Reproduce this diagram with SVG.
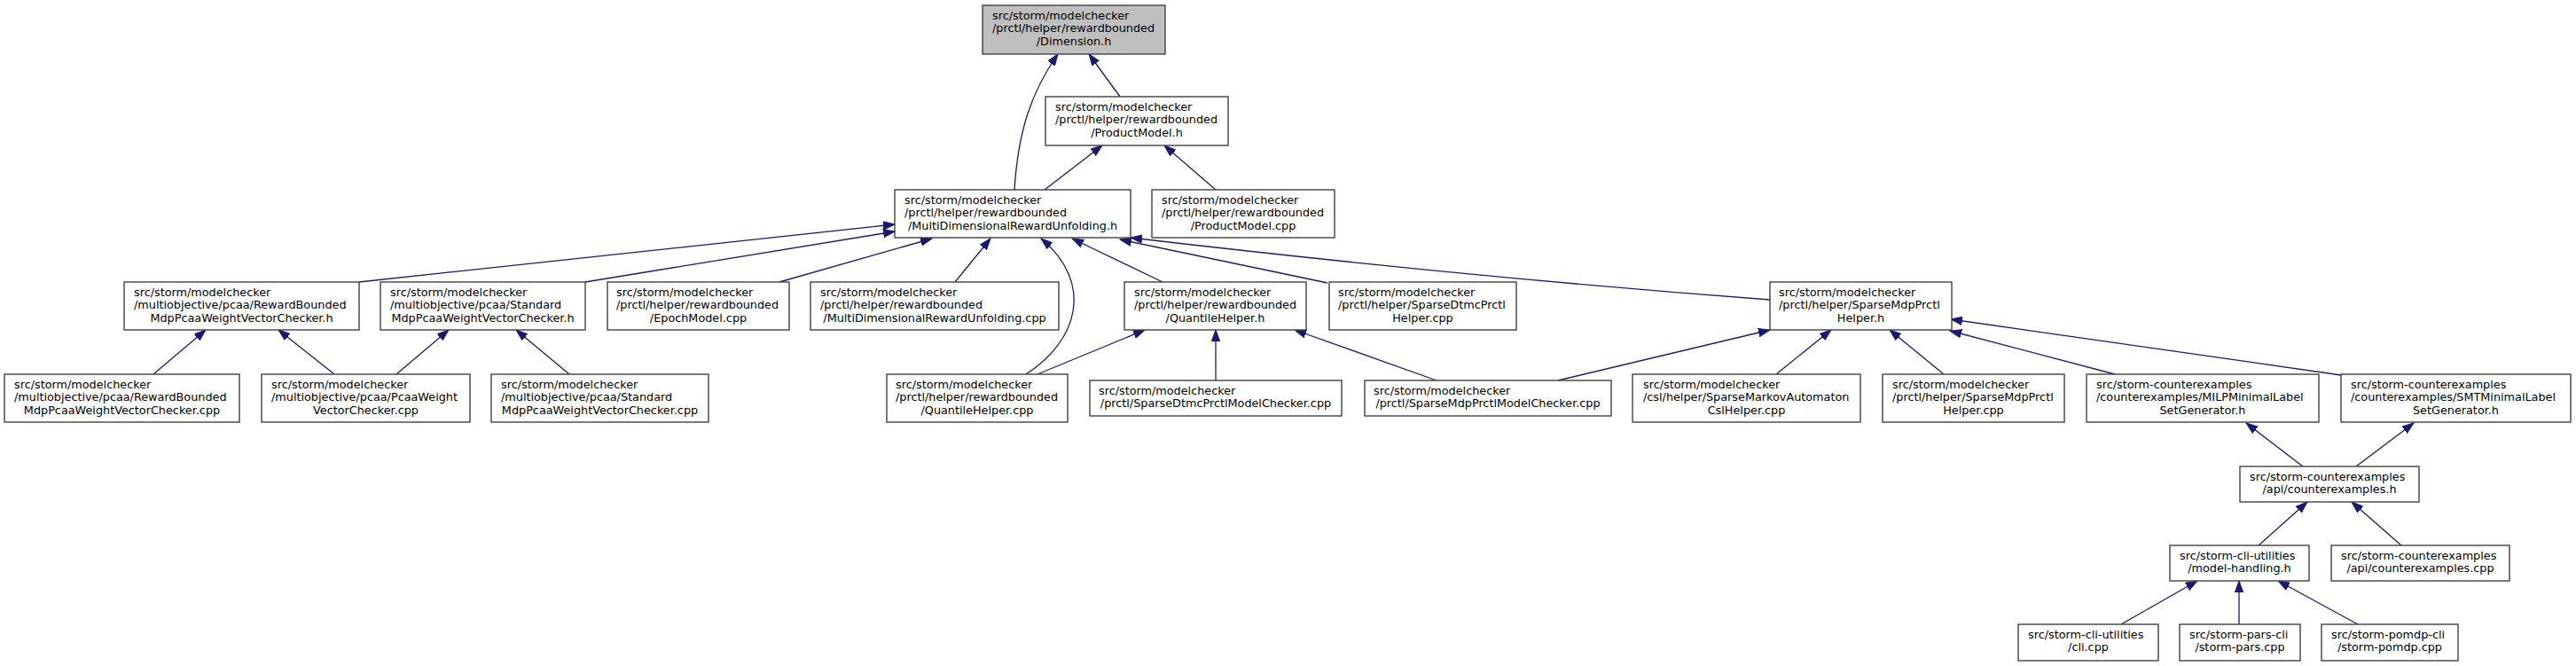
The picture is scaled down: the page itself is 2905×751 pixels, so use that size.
<svg xmlns="http://www.w3.org/2000/svg" width="2905" height="751" viewBox="0 0 2905 751">
<style>
rect{fill:#ffffff;stroke:#404040;stroke-width:1.4}
rect.root{fill:#bfbfbf}
text{font-family:"DejaVu Sans","Liberation Sans",sans-serif;font-size:12.8px;fill:#000000}
.c{text-anchor:middle}
#edges path{fill:none;stroke:#191970;stroke-width:1.3;marker-end:url(#ah)}
</style>
<defs>
<marker id="ah" markerUnits="userSpaceOnUse" markerWidth="14" markerHeight="10" refX="13" refY="5" orient="auto" viewBox="0 0 14 10">
<path d="M0,0.3 L13,5 L0,9.7 z" fill="#191970" stroke="#191970" stroke-width="1"/>
</marker>
</defs>
<rect x="0" y="0" width="2905" height="751" style="fill:#ffffff;stroke:none"/>
<g id="edges">
<path d="M1144,214 C1148,150 1162,105 1193,61"/>
<path d="M1263,109 L1228,61"/>
<path d="M1178,214 L1243,164"/>
<path d="M1371,214 L1313,164"/>
<path d="M405,318 L1009,253"/>
<path d="M660,318 L1009,261"/>
<path d="M879,318 L1051,269"/>
<path d="M1077,318 L1117,269"/>
<path d="M1157,422 C1215,385 1235,320 1174,269"/>
<path d="M1311,318 L1209,269"/>
<path d="M1497,319 L1263,270"/>
<path d="M1996,338 Q1650,312 1275,268"/>
<path d="M173,422 L232,372"/>
<path d="M377,422 L314,372"/>
<path d="M447,422 L506,372"/>
<path d="M642,422 L582,372"/>
<path d="M1170,422 L1291,372"/>
<path d="M1371,429 L1371,372"/>
<path d="M1620,429 L1460,372"/>
<path d="M1757,429 L1996,372"/>
<path d="M2003,422 L2065,372"/>
<path d="M2192,422 L2131,372"/>
<path d="M2385,422 L2199,373"/>
<path d="M2640,423 L2200,360"/>
<path d="M2597,526 L2533,477"/>
<path d="M2657,526 L2722,477"/>
<path d="M2547,615 L2602,566"/>
<path d="M2708,615 L2652,566"/>
<path d="M2392,704 L2478,655"/>
<path d="M2525,704 L2525,655"/>
<path d="M2659,704 L2569,655"/>
</g>
<g id="n_dimension_h"><rect class="root" x="1108" y="6" width="206" height="55"/><text><tspan x="1119" y="22">src/storm/modelchecker</tspan><tspan x="1119" y="36.4">/prctl/helper/rewardbounded</tspan><tspan class="c" x="1211" y="50.8">/Dimension.h</tspan></text></g>
<g id="n_productmodel_h"><rect x="1179" y="109" width="206" height="55"/><text><tspan x="1190" y="125">src/storm/modelchecker</tspan><tspan x="1190" y="139.4">/prctl/helper/rewardbounded</tspan><tspan class="c" x="1282" y="153.8">/ProductModel.h</tspan></text></g>
<g id="n_multidim_h"><rect x="1009" y="214" width="266" height="54"/><text><tspan x="1020" y="230">src/storm/modelchecker</tspan><tspan x="1020" y="244.4">/prctl/helper/rewardbounded</tspan><tspan class="c" x="1142" y="258.8">/MultiDimensionalRewardUnfolding.h</tspan></text></g>
<g id="n_productmodel_cpp"><rect x="1299" y="214" width="206" height="54"/><text><tspan x="1310" y="230">src/storm/modelchecker</tspan><tspan x="1310" y="244.4">/prctl/helper/rewardbounded</tspan><tspan class="c" x="1402" y="258.8">/ProductModel.cpp</tspan></text></g>
<g id="n_rbmdp_h"><rect x="140" y="318" width="265" height="54"/><text><tspan x="151" y="334">src/storm/modelchecker</tspan><tspan x="151" y="348.4">/multiobjective/pcaa/RewardBounded</tspan><tspan class="c" x="272.5" y="362.8">MdpPcaaWeightVectorChecker.h</tspan></text></g>
<g id="n_stdmdp_h"><rect x="429" y="318" width="231" height="54"/><text><tspan x="440" y="334">src/storm/modelchecker</tspan><tspan x="440" y="348.4">/multiobjective/pcaa/Standard</tspan><tspan class="c" x="544.5" y="362.8">MdpPcaaWeightVectorChecker.h</tspan></text></g>
<g id="n_epochmodel_cpp"><rect x="685" y="318" width="205" height="54"/><text><tspan x="695" y="334">src/storm/modelchecker</tspan><tspan x="695" y="348.4">/prctl/helper/rewardbounded</tspan><tspan class="c" x="787.5" y="362.8">/EpochModel.cpp</tspan></text></g>
<g id="n_multidim_cpp"><rect x="914" y="318" width="280" height="54"/><text><tspan x="925" y="334">src/storm/modelchecker</tspan><tspan x="925" y="348.4">/prctl/helper/rewardbounded</tspan><tspan class="c" x="1054" y="362.8">/MultiDimensionalRewardUnfolding.cpp</tspan></text></g>
<g id="n_quantile_h"><rect x="1268" y="318" width="205" height="54"/><text><tspan x="1279" y="334">src/storm/modelchecker</tspan><tspan x="1279" y="348.4">/prctl/helper/rewardbounded</tspan><tspan class="c" x="1370.5" y="362.8">/QuantileHelper.h</tspan></text></g>
<g id="n_sdtmchelper_cpp"><rect x="1499" y="318" width="211" height="54"/><text><tspan x="1509" y="334">src/storm/modelchecker</tspan><tspan x="1509" y="348.4">/prctl/helper/SparseDtmcPrctl</tspan><tspan class="c" x="1604.5" y="362.8">Helper.cpp</tspan></text></g>
<g id="n_smdphelper_h"><rect x="1996" y="318" width="205" height="54"/><text><tspan x="2006" y="334">src/storm/modelchecker</tspan><tspan x="2006" y="348.4">/prctl/helper/SparseMdpPrctl</tspan><tspan class="c" x="2098.5" y="362.8">Helper.h</tspan></text></g>
<g id="n_rbmdp_cpp"><rect x="5" y="422" width="265" height="54"/><text><tspan x="16" y="438">src/storm/modelchecker</tspan><tspan x="16" y="452.4">/multiobjective/pcaa/RewardBounded</tspan><tspan class="c" x="137.5" y="466.8">MdpPcaaWeightVectorChecker.cpp</tspan></text></g>
<g id="n_pcaaweight_cpp"><rect x="295" y="422" width="235" height="54"/><text><tspan x="306" y="438">src/storm/modelchecker</tspan><tspan x="306" y="452.4">/multiobjective/pcaa/PcaaWeight</tspan><tspan class="c" x="412.5" y="466.8">VectorChecker.cpp</tspan></text></g>
<g id="n_stdmdp_cpp"><rect x="554" y="422" width="245" height="54"/><text><tspan x="565" y="438">src/storm/modelchecker</tspan><tspan x="565" y="452.4">/multiobjective/pcaa/Standard</tspan><tspan class="c" x="676.5" y="466.8">MdpPcaaWeightVectorChecker.cpp</tspan></text></g>
<g id="n_quantile_cpp"><rect x="1000" y="422" width="204" height="54"/><text><tspan x="1010" y="438">src/storm/modelchecker</tspan><tspan x="1010" y="452.4">/prctl/helper/rewardbounded</tspan><tspan class="c" x="1102" y="466.8">/QuantileHelper.cpp</tspan></text></g>
<g id="n_sdtmcmc_cpp"><rect x="1229" y="429" width="284" height="40"/><text><tspan x="1239" y="444.5">src/storm/modelchecker</tspan><tspan class="c" x="1371" y="458.9">/prctl/SparseDtmcPrctlModelChecker.cpp</tspan></text></g>
<g id="n_smdpmc_cpp"><rect x="1539" y="429" width="278" height="40"/><text><tspan x="1549" y="444.5">src/storm/modelchecker</tspan><tspan class="c" x="1678" y="458.9">/prctl/SparseMdpPrctlModelChecker.cpp</tspan></text></g>
<g id="n_smacsl_cpp"><rect x="1841" y="422" width="257" height="54"/><text><tspan x="1853" y="438">src/storm/modelchecker</tspan><tspan x="1853" y="452.4">/csl/helper/SparseMarkovAutomaton</tspan><tspan class="c" x="1969.5" y="466.8">CslHelper.cpp</tspan></text></g>
<g id="n_smdphelper_cpp"><rect x="2123" y="422" width="205" height="54"/><text><tspan x="2134" y="438">src/storm/modelchecker</tspan><tspan x="2134" y="452.4">/prctl/helper/SparseMdpPrctl</tspan><tspan class="c" x="2225.5" y="466.8">Helper.cpp</tspan></text></g>
<g id="n_milp_h"><rect x="2353" y="422" width="262" height="54"/><text><tspan x="2364" y="438">src/storm-counterexamples</tspan><tspan x="2364" y="452.4">/counterexamples/MILPMinimalLabel</tspan><tspan class="c" x="2484" y="466.8">SetGenerator.h</tspan></text></g>
<g id="n_smt_h"><rect x="2640" y="422" width="259" height="54"/><text><tspan x="2651" y="438">src/storm-counterexamples</tspan><tspan x="2651" y="452.4">/counterexamples/SMTMinimalLabel</tspan><tspan class="c" x="2769.5" y="466.8">SetGenerator.h</tspan></text></g>
<g id="n_cex_h"><rect x="2526" y="526" width="202" height="40"/><text><tspan x="2537" y="541.5">src/storm-counterexamples</tspan><tspan class="c" x="2627" y="555.9">/api/counterexamples.h</tspan></text></g>
<g id="n_modelhandling_h"><rect x="2447" y="615" width="157" height="40"/><text><tspan x="2458" y="630.5">src/storm-cli-utilities</tspan><tspan class="c" x="2525.5" y="644.9">/model-handling.h</tspan></text></g>
<g id="n_cex_cpp"><rect x="2629" y="615" width="201" height="40"/><text><tspan x="2640" y="630.5">src/storm-counterexamples</tspan><tspan class="c" x="2729.5" y="644.9">/api/counterexamples.cpp</tspan></text></g>
<g id="n_cli_cpp"><rect x="2276" y="704" width="158" height="41"/><text><tspan x="2287" y="719.5">src/storm-cli-utilities</tspan><tspan class="c" x="2355" y="733.9">/cli.cpp</tspan></text></g>
<g id="n_pars_cpp"><rect x="2458" y="704" width="136" height="41"/><text><tspan x="2469" y="719.5">src/storm-pars-cli</tspan><tspan class="c" x="2526" y="733.9">/storm-pars.cpp</tspan></text></g>
<g id="n_pomdp_cpp"><rect x="2618" y="704" width="154" height="41"/><text><tspan x="2629" y="719.5">src/storm-pomdp-cli</tspan><tspan class="c" x="2695" y="733.9">/storm-pomdp.cpp</tspan></text></g>
</svg>
